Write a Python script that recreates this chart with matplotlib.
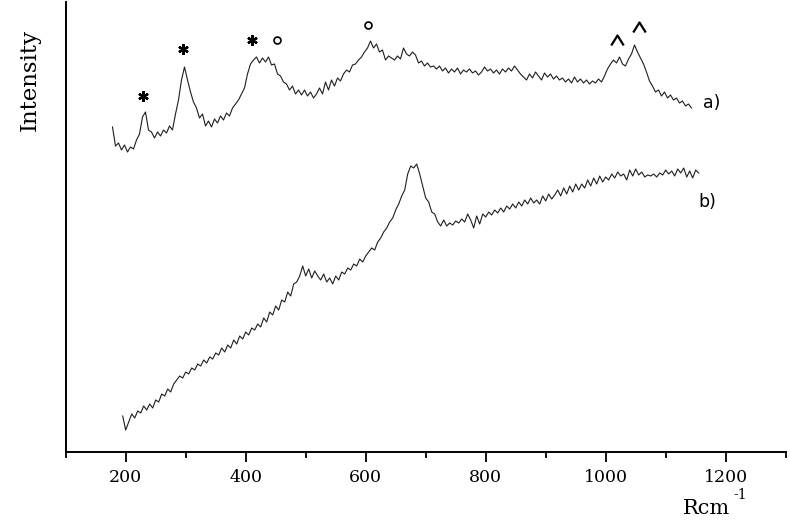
import matplotlib
matplotlib.use("Agg")
import matplotlib.pyplot as plt
import numpy as np
from matplotlib.path import Path

# ---- data ----
# Raman shift sampling: start wavenumber and step (cm-1)
start_a = 178
start_b = 195
step_cm = 5

# spectrum a) intensity (arbitrary units)
intensity_a = [
    325, 306, 309, 302, 307, 300, 305, 303, 312, 318, 335, 340, 322, 320, 314, 320,
    316, 322, 319, 326, 322, 338, 352, 372, 385, 372, 360, 350, 344, 334, 338, 326,
    331, 325, 333, 329, 336, 332, 339, 336, 344, 348, 352, 358, 364, 378, 388, 392,
    395, 389, 394, 390, 395, 387, 388, 378, 376, 370, 368, 362, 366, 358, 362, 357,
    362, 356, 360, 354, 358, 364, 358, 370, 362, 372, 366, 374, 371, 378, 382, 380,
    387, 388, 392, 395, 400, 404, 411, 404, 408, 400, 402, 392, 396, 394, 392, 396,
    393, 404, 398, 396, 400, 397, 389, 391, 386, 389, 385, 386, 383, 386, 381, 384,
    379, 383, 380, 384, 378, 382, 380, 383, 379, 381, 377, 380, 385, 381, 383, 379,
    382, 378, 383, 380, 384, 381, 386, 382, 378, 375, 372, 378, 374, 380, 376, 372,
    379, 375, 378, 373, 376, 372, 374, 370, 373, 369, 375, 370, 373, 369, 372, 368,
    371, 369, 373, 370, 376, 383, 388, 392, 389, 395, 388, 386, 393, 398, 407, 400,
    394, 388, 380, 371, 366, 360, 362, 356, 360, 354, 357, 352, 354, 349, 351, 346,
    348, 344,
]

# spectrum b) intensity (arbitrary units)
intensity_b = [
    36, 22, 30, 38, 34, 41, 39, 46, 42, 48, 44, 52, 50, 58, 56, 63,
    60, 68, 72, 76, 74, 80, 78, 84, 82, 88, 86, 92, 89, 95, 93, 99,
    97, 104, 100, 107, 104, 112, 108, 116, 113, 120, 117, 124, 122, 128, 125, 134,
    130, 140, 137, 146, 142, 152, 150, 160, 156, 168, 170, 176, 186, 176, 183, 174,
    181, 176, 172, 178, 170, 174, 168, 176, 172, 180, 178, 184, 182, 188, 186, 193,
    190, 196, 200, 204, 202, 210, 214, 220, 224, 230, 234, 242, 248, 256, 262, 278,
    286, 284, 288, 278, 266, 254, 250, 240, 238, 230, 226, 232, 226, 229, 227, 231,
    229, 233, 230, 238, 232, 224, 236, 228, 238, 235, 240, 237, 242, 239, 244, 240,
    246, 243, 248, 244, 250, 246, 252, 248, 254, 249, 252, 248, 256, 251, 258, 253,
    257, 262, 256, 264, 258, 266, 260, 268, 262, 268, 264, 272, 266, 274, 268, 276,
    270, 275, 272, 278, 274, 280, 276, 278, 272, 282, 276, 283, 277, 280, 275, 277,
    276, 278, 275, 279, 277, 282, 278, 281, 276, 283, 279, 284, 275, 281, 274, 282,
    279,
]

# peak annotations above spectrum a): position (cm-1), height, symbol
star_x = [229, 296, 410]
star_y = [356, 403, 412]
circle_x = [452, 604]
circle_y = [412, 427]
caret_x = [1019, 1055]
caret_y = [412, 425]

curve_labels = ["a)", "b)"]
curve_label_x = [1177, 1170]
curve_label_y = [349, 250]

major_ticks = [200, 400, 600, 800, 1000, 1200]
minor_ticks = [100, 300, 500, 700, 900, 1100, 1300]

# ---- figure ----
W, H = 790, 524
fig = plt.figure(figsize=(W / 100, H / 100), dpi=100)
ax = fig.add_axes([65.7 / W, (H - 452) / H, 720 / W, 450 / H])

xa = start_a + step_cm * np.arange(len(intensity_a))
xb = start_b + step_cm * np.arange(len(intensity_b))
ax.plot(xa, intensity_a, color="#1e1e1e", lw=0.8)
ax.plot(xb, intensity_b, color="#1e1e1e", lw=0.8)

ax.set_xlim(100, 1300)
ax.set_ylim(0, 450)

for s in ["top", "right"]:
    ax.spines[s].set_visible(False)
for s in ["left", "bottom"]:
    ax.spines[s].set_linewidth(1.4)
    ax.spines[s].set_color("black")

ax.set_yticks([])
ax.set_xticks(major_ticks)
ax.set_xticks(minor_ticks, minor=True)
ax.set_xticklabels([str(t) for t in major_ticks], family="DejaVu Serif", fontsize=12.5)
ax.tick_params(axis="x", which="major", direction="out", length=7, width=1.3, pad=5)
ax.tick_params(axis="x", which="minor", direction="out", length=4, width=1.3)

# annotations
ax.plot(star_x, star_y, linestyle="none", marker=(6, 2, 0), markersize=7.5,
        markeredgewidth=1.7, color="black", clip_on=False)
ax.plot(circle_x, circle_y, linestyle="none", marker="o", markersize=5,
        markerfacecolor="white", markeredgecolor="black", markeredgewidth=1.2, clip_on=False)
caret = Path([(-1.0, -0.8), (0.0, 0.8), (1.0, -0.8)], [Path.MOVETO, Path.LINETO, Path.LINETO])
ax.plot(caret_x, caret_y, linestyle="none", marker=caret, markersize=9,
        markerfacecolor="none", markeredgecolor="black", markeredgewidth=1.6, clip_on=False)

for lab, lx, ly in zip(curve_labels, curve_label_x, curve_label_y):
    ax.text(lx, ly, lab, ha="center", va="center", fontsize=12.5, family="DejaVu Sans")

# axis titles
fig.text(30 / W, 1 - 80 / H, "Intensity", rotation=90, ha="center", va="center",
         fontsize=16.5, family="DejaVu Serif")
fig.text(707 / W, 1 - 514 / H, "Rcm", ha="center", va="baseline",
         fontsize=15, family="DejaVu Serif")
fig.text(733 / W, 1 - 499 / H, "-1", ha="left", va="baseline",
         fontsize=10, family="DejaVu Serif")

fig.savefig("out.png", dpi=100)
